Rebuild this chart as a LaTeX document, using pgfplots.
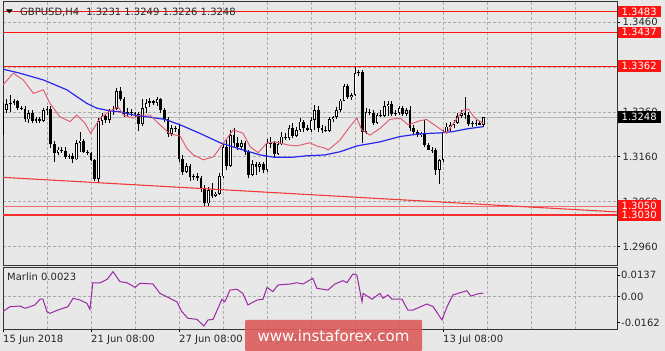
\documentclass[border=0pt]{standalone}
\usepackage{fontspec}
\setmainfont{DejaVu Sans}
\usepackage{pgfplots}
\usepackage{pgfplotstable}
\pgfplotsset{compat=1.18}
\definecolor{bg}{RGB}{232,232,232}
\definecolor{gridc}{RGB}{172,172,172}
\definecolor{mared}{RGB}{228,85,105}
\definecolor{mablue}{RGB}{40,40,235}
\definecolor{purp}{RGB}{155,40,165}
\definecolor{trend}{RGB}{240,60,60}
\definecolor{lvltwo}{RGB}{240,110,110}
\definecolor{wm}{RGB}{222,92,92}
\definecolor{pricegray}{RGB}{185,185,185}
\definecolor{lvlred}{RGB}{255,20,20}
\definecolor{lvlthree}{RGB}{250,45,45}

\pgfplotstableread{
i o h l c
0 1.3272 1.3280 1.3208 1.3264
1 1.3264 1.3288 1.3257 1.3277
2 1.3277 1.3297 1.3260 1.3280
3 1.3280 1.3288 1.3275 1.3283
4 1.3283 1.3286 1.3264 1.3268
5 1.3268 1.3272 1.3263 1.3266
6 1.3266 1.3272 1.3238 1.3243
7 1.3243 1.3264 1.3236 1.3258
8 1.3258 1.3264 1.3234 1.3240
9 1.3240 1.3249 1.3234 1.3243
10 1.3243 1.3248 1.3236 1.3240
11 1.3240 1.3268 1.3238 1.3263
12 1.3263 1.3273 1.3253 1.3266
13 1.3266 1.3272 1.3179 1.3188
14 1.3188 1.3194 1.3149 1.3168
15 1.3168 1.3181 1.3164 1.3176
16 1.3176 1.3181 1.3168 1.3172
17 1.3172 1.3182 1.3156 1.3160
18 1.3160 1.3166 1.3156 1.3162
19 1.3162 1.3168 1.3145 1.3154
20 1.3154 1.3197 1.3153 1.3191
21 1.3191 1.3216 1.3171 1.3196
22 1.3196 1.3199 1.3168 1.3171
23 1.3171 1.3176 1.3164 1.3168
24 1.3168 1.3171 1.3151 1.3153
25 1.3153 1.3156 1.3107 1.3110
26 1.3110 1.3246 1.3102 1.3240
27 1.3240 1.3257 1.3231 1.3251
28 1.3251 1.3253 1.3236 1.3242
29 1.3242 1.3266 1.3234 1.3263
30 1.3263 1.3272 1.3253 1.3266
31 1.3266 1.3312 1.3264 1.3307
32 1.3307 1.3316 1.3283 1.3288
33 1.3288 1.3294 1.3249 1.3255
34 1.3255 1.3268 1.3251 1.3260
35 1.3260 1.3266 1.3251 1.3257
36 1.3257 1.3260 1.3248 1.3255
37 1.3255 1.3260 1.3218 1.3233
38 1.3233 1.3288 1.3228 1.3268
39 1.3268 1.3288 1.3257 1.3280
40 1.3280 1.3290 1.3270 1.3283
41 1.3283 1.3286 1.3275 1.3279
42 1.3279 1.3292 1.3273 1.3288
43 1.3288 1.3290 1.3257 1.3263
44 1.3263 1.3268 1.3238 1.3243
45 1.3243 1.3249 1.3205 1.3211
46 1.3211 1.3231 1.3206 1.3223
47 1.3223 1.3228 1.3216 1.3221
48 1.3221 1.3231 1.3149 1.3154
49 1.3154 1.3164 1.3119 1.3127
50 1.3127 1.3145 1.3123 1.3139
51 1.3139 1.3144 1.3107 1.3114
52 1.3114 1.3122 1.3108 1.3116
53 1.3116 1.3123 1.3107 1.3112
54 1.3112 1.3116 1.3082 1.3087
55 1.3087 1.3097 1.3049 1.3056
56 1.3056 1.3093 1.3050 1.3086
57 1.3086 1.3101 1.3067 1.3072
58 1.3072 1.3082 1.3070 1.3078
59 1.3078 1.3123 1.3075 1.3116
60 1.3116 1.3190 1.3112 1.3181
61 1.3181 1.3197 1.3130 1.3139
62 1.3139 1.3220 1.3136 1.3208
63 1.3208 1.3223 1.3182 1.3191
64 1.3191 1.3205 1.3175 1.3181
65 1.3181 1.3197 1.3175 1.3191
66 1.3191 1.3194 1.3164 1.3171
67 1.3171 1.3176 1.3112 1.3119
68 1.3119 1.3153 1.3116 1.3144
69 1.3144 1.3149 1.3119 1.3138
70 1.3138 1.3149 1.3127 1.3144
71 1.3144 1.3149 1.3123 1.3130
72 1.3130 1.3199 1.3127 1.3191
73 1.3191 1.3205 1.3179 1.3190
74 1.3190 1.3194 1.3160 1.3166
75 1.3166 1.3194 1.3164 1.3188
76 1.3188 1.3216 1.3186 1.3205
77 1.3205 1.3212 1.3197 1.3201
78 1.3201 1.3231 1.3197 1.3223
79 1.3223 1.3234 1.3201 1.3206
80 1.3206 1.3227 1.3203 1.3220
81 1.3220 1.3246 1.3216 1.3238
82 1.3238 1.3242 1.3216 1.3223
83 1.3223 1.3231 1.3218 1.3220
84 1.3220 1.3249 1.3216 1.3242
85 1.3242 1.3275 1.3220 1.3264
86 1.3264 1.3272 1.3216 1.3223
87 1.3223 1.3231 1.3212 1.3220
88 1.3220 1.3228 1.3216 1.3218
89 1.3218 1.3248 1.3215 1.3243
90 1.3243 1.3251 1.3238 1.3248
91 1.3248 1.3270 1.3243 1.3264
92 1.3264 1.3288 1.3260 1.3285
93 1.3285 1.3323 1.3283 1.3318
94 1.3318 1.3322 1.3288 1.3292
95 1.3292 1.3301 1.3286 1.3297
96 1.3297 1.3362 1.3295 1.3346
97 1.3346 1.3353 1.3340 1.3349
98 1.3349 1.3353 1.3190 1.3216
99 1.3216 1.3268 1.3211 1.3260
100 1.3260 1.3266 1.3253 1.3258
101 1.3258 1.3264 1.3231 1.3236
102 1.3236 1.3257 1.3233 1.3253
103 1.3253 1.3264 1.3248 1.3251
104 1.3251 1.3283 1.3249 1.3272
105 1.3272 1.3285 1.3251 1.3277
106 1.3277 1.3283 1.3251 1.3255
107 1.3255 1.3264 1.3251 1.3258
108 1.3258 1.3272 1.3253 1.3268
109 1.3268 1.3272 1.3251 1.3255
110 1.3255 1.3268 1.3251 1.3264
111 1.3264 1.3272 1.3218 1.3223
112 1.3223 1.3231 1.3211 1.3216
113 1.3216 1.3220 1.3203 1.3208
114 1.3208 1.3216 1.3205 1.3212
115 1.3212 1.3242 1.3181 1.3186
116 1.3186 1.3191 1.3174 1.3176
117 1.3176 1.3182 1.3169 1.3174
118 1.3174 1.3179 1.3119 1.3130
119 1.3130 1.3156 1.3099 1.3153
120 1.3153 1.3220 1.3149 1.3214
121 1.3214 1.3234 1.3211 1.3227
122 1.3227 1.3238 1.3218 1.3231
123 1.3231 1.3242 1.3223 1.3236
124 1.3236 1.3257 1.3233 1.3251
125 1.3251 1.3264 1.3246 1.3258
126 1.3258 1.3292 1.3243 1.3253
127 1.3253 1.3260 1.3228 1.3233
128 1.3233 1.3240 1.3227 1.3234
129 1.3234 1.3242 1.3228 1.3236
130 1.3236 1.3240 1.3230 1.3231
131 1.3231 1.3249 1.3226 1.3248
}\candles

\begin{document}
\begin{tikzpicture}
\useasboundingbox (0,0) rectangle (665pt,351pt);
\fill[bg] (0,0) rectangle (665pt,351pt);

% ---------------- main price panel ----------------
\begin{axis}[
  at={(3pt,86pt)}, anchor=south west,
  scale only axis, width=614pt, height=264pt,
  xmin=0, xmax=167.44, ymin=1.29188, ymax=1.35068,
  axis line style={black!80, line width=0.9pt},
  xtick={0,12,...,156}, xticklabels={}, xtick style={draw=none},
  ytick={1.296,1.306,1.316,1.326,1.336,1.346},
  yticklabels={1.2960,1.3060,1.3160,1.3260,1.3360,1.3460},
  scaled y ticks=false,
  ytick pos=right, yticklabel pos=right,
  tick align=outside, major tick length=3pt,
  ytick style={black, line width=0.6pt},
  grid=major, grid style={gridc, dash pattern=on 2.5pt off 2.5pt, line width=0.6pt},
  tick label style={font=\fontsize{10}{12}\selectfont, text=black!85},
  yticklabel style={anchor=west, inner sep=0pt, xshift=2.5pt},
]
% current price line
\addplot[draw=pricegray, line width=0.8pt, forget plot] coordinates {(0,1.3248) (167.44,1.3248)};
% candle wicks
\addplot[forget plot, draw=none, mark=none,
  error bars/.cd, y dir=plus, y explicit, error mark=none,
  error bar style={draw=black, line width=0.9pt}]
  table[x=i, y=l, y error plus expr={\thisrow{h}-\thisrow{l}}] {\candles};
% candle bodies (outline / bearish fill)
\addplot[forget plot, draw=none, mark=none,
  error bars/.cd, y dir=plus, y explicit, error mark=none,
  error bar style={draw=black, line width=2.7pt}]
  table[x=i, y expr={min(\thisrow{o},\thisrow{c})}, y error plus expr={max(abs(\thisrow{c}-\thisrow{o}),0.00012)}] {\candles};
% bullish bodies: white interior
\addplot[forget plot, draw=none, mark=none,
  error bars/.cd, y dir=plus, y explicit, error mark=none,
  error bar style={draw=white, line width=1.0pt}]
  table[x=i, y expr={\thisrow{o}+0.00018}, y error plus expr={max(\thisrow{c}-\thisrow{o}-0.00036,0)}] {\candles};
% blue moving average
\addplot[draw=mablue, line width=1.2pt, forget plot] coordinates {
(0,1.3355) (4.6,1.3346) (11.0,1.3331) (17.4,1.3309) (22.8,1.3279) (25.6,1.3268)
(29.2,1.3262) (31.9,1.3260) (35.5,1.3253) (39.2,1.3249) (44.2,1.3243) (48.3,1.3231)
(53.7,1.3212) (59.2,1.3191) (64.6,1.3177) (70.1,1.3164) (73.7,1.3159) (79.2,1.3159)
(82.8,1.3162) (87.8,1.3164) (91.9,1.3171) (96.5,1.3184) (102.8,1.3193) (108.3,1.3205)
(113.7,1.3211) (119.2,1.3213) (122.8,1.3216) (126.5,1.3222) (131,1.3227)};
% red moving average
\addplot[draw=mared, line width=0.9pt, forget plot] coordinates {
(0,1.3320) (2.8,1.3346) (5.5,1.3331) (8.3,1.3301) (11.0,1.3309) (12.8,1.3279)
(15.5,1.3249) (18.3,1.3238) (20.1,1.3253) (22.4,1.3234) (23.9,1.3212) (26.5,1.3246)
(29.2,1.3262) (31.4,1.3271) (32.8,1.3253) (35.5,1.3246) (37.4,1.3253) (40.1,1.3253)
(42.8,1.3231) (45.5,1.3211) (48.3,1.3206) (50.1,1.3179) (51.9,1.3164) (54.6,1.3153)
(57.4,1.3160) (60.1,1.3190) (62.8,1.3220) (65.5,1.3212) (67.4,1.3182) (69.6,1.3169)
(71.9,1.3190) (74.2,1.3193) (77.8,1.3186) (80.1,1.3184) (83.7,1.3191) (85.5,1.3184)
(87.8,1.3179) (88.7,1.3175) (91.9,1.3197) (94.6,1.3227) (96.5,1.3246) (97.8,1.3220)
(100.1,1.3208) (102.8,1.3223) (105.5,1.3243) (108.3,1.3246) (110.5,1.3231) (113.7,1.3240)
(115.5,1.3243) (118.3,1.3227) (121.0,1.3212) (122.8,1.3234) (125.5,1.3264) (126.9,1.3266)
(128.7,1.3246) (131,1.3234)};
% level lines
\addplot[draw=lvlred, line width=0.8pt, forget plot] coordinates {(0,1.3483) (167.44,1.3483)};
\addplot[draw=lvlred, line width=0.8pt, forget plot] coordinates {(0,1.3437) (167.44,1.3437)};
\addplot[draw=lvlred, line width=0.8pt, forget plot] coordinates {(0,1.3362) (167.44,1.3362)};
\addplot[draw=lvltwo, line width=1.0pt, forget plot] coordinates {(0,1.3050) (167.44,1.3050)};
\addplot[draw=lvlthree, line width=1.3pt, forget plot] coordinates {(0,1.3030) (167.44,1.3030)};
% trend line
\addplot[draw=trend, line width=1.1pt, forget plot] coordinates {(0,1.3114) (167.44,1.3037)};
\coordinate (L3483) at (axis cs:167.44,1.3483);
\coordinate (L3437) at (axis cs:167.44,1.3437);
\coordinate (L3362) at (axis cs:167.44,1.3362);
\coordinate (L3248) at (axis cs:167.44,1.3248);
\coordinate (L3050) at (axis cs:167.44,1.3050);
\coordinate (L3030) at (axis cs:167.44,1.3030);
\end{axis}

% ---------------- indicator panel ----------------
\begin{axis}[
  at={(3pt,22pt)}, anchor=south west,
  scale only axis, width=614pt, height=61.5pt,
  xmin=0, xmax=167.44, ymin=-0.02039, ymax=0.01843,
  axis line style={black!80, line width=0.9pt},
  xtick={0,24,48,72,96,120},
  xticklabels={15 Jun 2018,21 Jun 08:00,27 Jun 08:00,3 Jul 08:00,9 Jul 08:00,13 Jul 08:00},
  minor xtick={12,36,60,84,108,132,144,156},
  scaled y ticks=false,
  xtick pos=bottom, ytick pos=right, yticklabel pos=right,
  tick align=outside, major tick length=3pt, minor tick length=0pt,
  xmajorgrids, xminorgrids, ymajorgrids,
  grid style={gridc, dash pattern=on 2.5pt off 2.5pt, line width=0.6pt},
  minor grid style={gridc, dash pattern=on 2.5pt off 2.5pt, line width=0.6pt},
  ytick={0}, yticklabels={0.00},
  extra y ticks={-0.0162,0.0137}, extra y tick labels={-0.0162,0.0137},
  extra y tick style={grid=none},
  tick style={black, line width=0.6pt},
  tick label style={font=\fontsize{10}{12}\selectfont, text=black!85},
  yticklabel style={anchor=west, inner sep=0pt, xshift=1pt},
  xticklabel style={anchor=north west, inner sep=0pt, yshift=-3pt},
]
\addplot[draw=purp, line width=1.0pt] coordinates {
(0,-0.0093) (1.9,-0.0063) (4.6,-0.0059) (6.0,-0.0073) (7.4,-0.0063) (8.7,-0.0052)
(10.1,-0.0016) (10.9,-0.0016) (12.0,-0.0095) (12.8,-0.0105) (15.0,-0.0084) (17.7,-0.0063)
(19.1,-0.0010) (21.0,-0.0021) (22.9,-0.0042) (23.7,-0.0080) (24.5,0.0088) (26.5,0.0088)
(28.4,0.0110) (30.0,0.0158) (31.9,0.0095) (33.8,0.0088) (36.0,0.0059) (37.4,0.0085)
(40.9,0.0080) (42.8,0.0021) (45.5,-0.0010) (47.4,-0.0032) (48.8,-0.0095) (50.4,-0.0136)
(52.9,-0.0143) (54.8,-0.0185) (55.9,-0.0147) (57.3,-0.0143) (59.7,-0.0016) (60.5,-0.0032)
(61.9,0.0042) (63.8,0.0047) (65.4,0.0021) (66.8,-0.0052) (69.3,-0.0021) (70.9,-0.0016)
(72.0,0.0059) (73.6,0.0032) (75.0,0.0074) (78.3,0.0080) (80.2,0.0088) (81.8,0.0080)
(84.5,0.0116) (85.6,0.0053) (88.6,0.0042) (90.5,0.0080) (92.7,0.0101) (93.8,0.0088)
(95.4,0.0143) (96.5,0.0137) (97.9,-0.0032) (98.2,0.0021) (100.6,-0.0016) (102.8,0.0021)
(103.6,-0.0010) (105.0,0.0011) (106.1,-0.0016) (108.8,-0.0016) (110.4,-0.0084) (111.8,-0.0084)
(115.6,-0.0046) (117.3,-0.0063) (119.7,-0.0147) (121.1,-0.0063) (122.7,0.0011) (126.5,0.0038)
(127.6,0.0004) (129.3,0.0017) (131,0.0023)};
\end{axis}

% ---------------- price labels ----------------
\tikzset{pl/.style={anchor=west, inner sep=0pt, minimum width=43pt, minimum height=11.5pt,
  text=white, font=\fontsize{10}{12}\selectfont, xshift=0.5pt}}
\node[pl, fill=lvlred] at (L3483) {1.3483};
\node[pl, fill=lvlred] at (L3437) {1.3437};
\node[pl, fill=lvlred] at (L3362) {1.3362};
\node[pl, fill=black] at (L3248) {1.3248};
\node[pl, fill=lvlred] at (L3050) {1.3050};
\node[pl, fill=lvlred] at (L3030) {1.3030};

% ---------------- titles ----------------
\fill[black] (6pt,341.5pt) -- (12.7pt,341.5pt) -- (9.35pt,337.7pt) -- cycle;
\node[anchor=base west, inner sep=0pt, text=black!85, font=\fontsize{10}{12}\selectfont]
  at (20pt,335pt) {GBPUSD,H4\hspace{7pt}1.3231 1.3249 1.3226 1.3248};
\node[anchor=base west, inner sep=0pt, text=black!85, font=\fontsize{10}{12}\selectfont]
  at (7pt,70pt) {Marlin 0.0023};

% ---------------- watermark ----------------
\fill[wm, opacity=0.9, rounded corners=1pt] (245pt,0pt) rectangle (422pt,31pt);
\node[anchor=base, inner sep=0pt, text=white, font=\fontsize{15}{18}\selectfont]
  at (333.5pt,9pt) {www.instaforex.com};
\end{tikzpicture}
\end{document}
